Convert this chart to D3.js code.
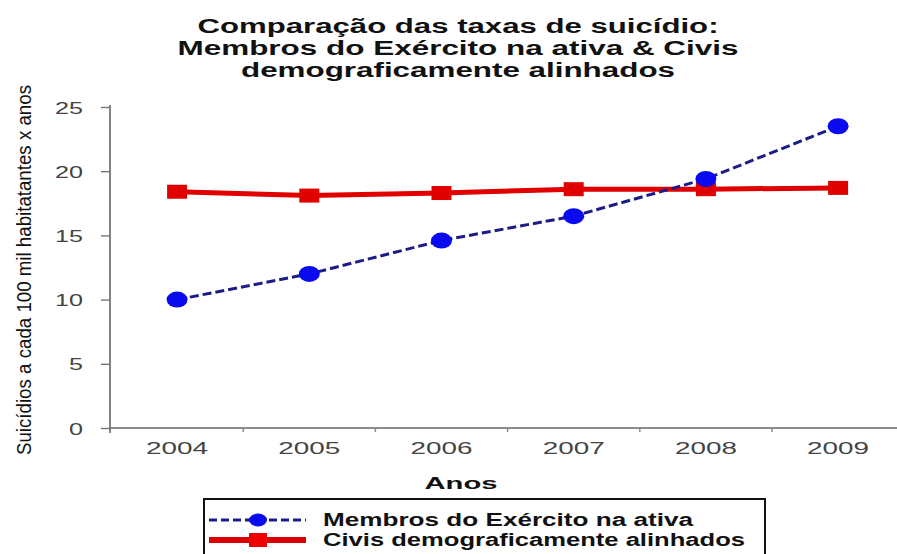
<!DOCTYPE html>
<html>
<head>
<meta charset="utf-8">
<script src="https://cdn.jsdelivr.net/npm/d3@7"></script>
<style>
  body { margin: 0; background: #fff; }
  svg { display: block; font-family: "Liberation Sans", Arial, sans-serif; }
</style>
</head>
<body>
<svg width="897" height="554"></svg>
<script>
// data
var years = ["2004", "2005", "2006", "2007", "2008", "2009"];
var exercito = [10.0, 12.0, 14.6, 16.5, 19.4, 23.5];
var civis = [18.4, 18.1, 18.3, 18.6, 18.6, 18.7];
var yTicks = [0, 5, 10, 15, 20, 25];
var titleLines = ["Comparação das taxas de suicídio:",
                  "Membros do Exército na ativa & Civis",
                  "demograficamente alinhados"];
var seriesNames = ["Membros do Exército na ativa", "Civis demograficamente alinhados"];

var svg = d3.select("svg");

var x = d3.scaleBand().domain(years).range([111, 111 + 6 * 132.2]);
var y = d3.scaleLinear().domain([0, 25]).range([428, 107]);

// Title (the picture is stretched sideways, so textLength is used)
var titleLen = [521, 561, 434];
var titleY = [33, 55, 77];
svg.selectAll(".title")
  .data(titleLines)
  .enter().append("text")
  .attr("class", "title")
  .attr("x", 458)
  .attr("y", function(d, i) { return titleY[i]; })
  .attr("text-anchor", "middle")
  .attr("textLength", function(d, i) { return titleLen[i]; })
  .attr("lengthAdjust", "spacingAndGlyphs")
  .style("font-weight", "bold")
  .style("font-size", "20px")
  .style("fill", "#111")
  .text(function(d) { return d; });

// Y axis
var yAxis = svg.append("g")
  .attr("transform", "translate(110,0)")
  .call(d3.axisLeft(y).tickValues(yTicks).tickSize(9).tickPadding(18));
yAxis.select(".domain").attr("d", "M0," + (y(25) - 2) + "V" + (y(0) + 5))
  .style("stroke", "#666").style("stroke-width", 1.6);
yAxis.selectAll(".tick line").style("stroke", "#777").style("stroke-width", 1.4);
yAxis.selectAll(".tick text")
  .attr("textLength", function(d) { return String(d).length * 14; })
  .attr("lengthAdjust", "spacingAndGlyphs")
  .attr("dy", "0.36em")
  .style("font-size", "17px")
  .style("fill", "#444")
  .style("font-family", "Liberation Sans, Arial, sans-serif");

// X axis
var xAxis = svg.append("g")
  .attr("transform", "translate(0," + y(0) + ")")
  .call(d3.axisBottom(x).tickSize(0).tickPadding(14));
xAxis.select(".domain").attr("d", "M110,0H897")
  .style("stroke", "#666").style("stroke-width", 1.6);
xAxis.selectAll(".tick text")
  .attr("textLength", 62)
  .attr("lengthAdjust", "spacingAndGlyphs")
  .style("font-size", "17px")
  .style("fill", "#444")
  .style("font-family", "Liberation Sans, Arial, sans-serif");
// small ticks at the category boundaries
xAxis.selectAll(".bound")
  .data(years.slice(1))
  .enter().append("line")
  .attr("x1", function(d) { return x(d); })
  .attr("x2", function(d) { return x(d); })
  .attr("y1", 0).attr("y2", 4)
  .style("stroke", "#888").style("stroke-width", 1.4);

// Axis titles
svg.append("text")
  .attr("x", 461).attr("y", 489)
  .attr("text-anchor", "middle")
  .attr("textLength", 73)
  .attr("lengthAdjust", "spacingAndGlyphs")
  .style("font-weight", "bold").style("font-size", "17px").style("fill", "#111")
  .text("Anos");

svg.append("text")
  .attr("transform", "translate(31,270)rotate(-90)")
  .attr("text-anchor", "middle")
  .attr("textLength", 370)
  .attr("lengthAdjust", "spacingAndGlyphs")
  .style("font-size", "20px").style("fill", "#111")
  .style("font-family", "'Liberation Sans Narrow', 'Liberation Sans', Arial, sans-serif")
  .text("Suicídios a cada 100 mil habitatantes x anos");

// Lines
var cx = function(d, i) { return x(years[i]) + x.bandwidth() / 2; };
var line = d3.line().x(cx).y(function(d) { return y(d); });

svg.append("path")
  .datum(civis)
  .attr("d", line)
  .style("fill", "none").style("stroke", "#e00000").style("stroke-width", 5);

svg.append("path")
  .datum(exercito)
  .attr("d", line)
  .style("fill", "none").style("stroke", "#1c1c86").style("stroke-width", 3)
  .style("stroke-dasharray", "9,4");

svg.append("g").selectAll("rect")
  .data(civis)
  .enter().append("rect")
  .attr("x", function(d, i) { return cx(d, i) - 10; })
  .attr("y", function(d) { return y(d) - 7; })
  .attr("width", 20).attr("height", 14)
  .style("fill", "#e00000");

svg.append("g").selectAll("ellipse")
  .data(exercito)
  .enter().append("ellipse")
  .attr("cx", cx)
  .attr("cy", function(d) { return y(d); })
  .attr("rx", 10.5).attr("ry", 8)
  .style("fill", "#0a0af0");

// Legend
var leg = svg.append("g");
leg.append("rect")
  .attr("x", 204).attr("y", 499).attr("width", 561).attr("height", 70)
  .style("fill", "#fff").style("stroke", "#111").style("stroke-width", 2);

leg.append("line")
  .attr("x1", 209).attr("x2", 306).attr("y1", 520).attr("y2", 520)
  .style("stroke", "#1c1c86").style("stroke-width", 3).style("stroke-dasharray", "8,4");
leg.append("ellipse")
  .attr("cx", 258).attr("cy", 520).attr("rx", 9).attr("ry", 6.5)
  .style("fill", "#0a0af0");

leg.append("line")
  .attr("x1", 209).attr("x2", 306).attr("y1", 540).attr("y2", 540)
  .style("stroke", "#dd0000").style("stroke-width", 6);
leg.append("rect")
  .attr("x", 249).attr("y", 533).attr("width", 18).attr("height", 14)
  .style("fill", "#ee0000");

var legLen = [370, 422];
leg.selectAll(".legtext")
  .data(seriesNames)
  .enter().append("text")
  .attr("x", 323)
  .attr("y", function(d, i) { return 526 + i * 20; })
  .attr("textLength", function(d, i) { return legLen[i]; })
  .attr("lengthAdjust", "spacingAndGlyphs")
  .style("font-weight", "bold").style("font-size", "18px").style("fill", "#111")
  .text(function(d) { return d; });
</script>
</body>
</html>
